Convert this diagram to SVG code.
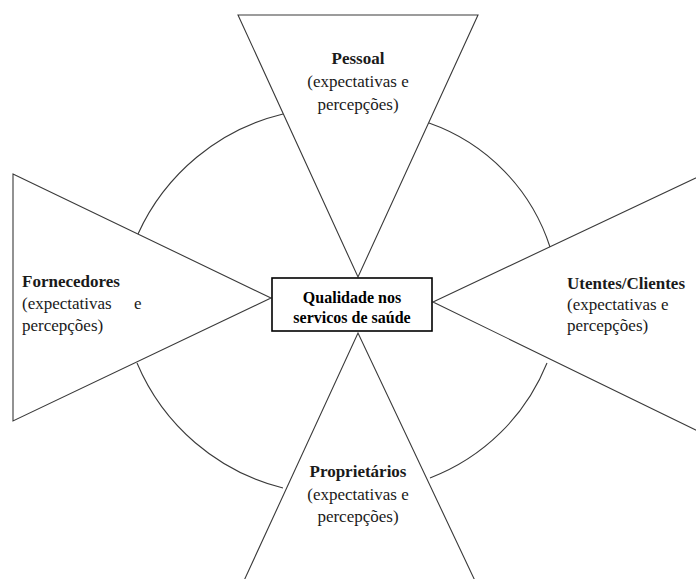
<svg xmlns="http://www.w3.org/2000/svg" width="696" height="579" viewBox="0 0 696 579">
  <style>
    .edge { fill: none; stroke: #3a3a3a; stroke-width: 1.1; stroke-linejoin: miter; }
    .arc { fill: none; stroke: #3a3a3a; stroke-width: 1.1; }
    .box { fill: #ffffff; stroke: #000000; stroke-width: 1.6; }
    .t { font-family: "Liberation Serif", "Times New Roman", serif; font-size: 17px; fill: #1a1a1a; }
    .b { font-weight: bold; }
    .c { text-anchor: middle; }
    .q { font-family: "Liberation Serif", "Times New Roman", serif; font-size: 16px; font-weight: bold; fill: #000; text-anchor: middle; }
  </style>
  <rect width="696" height="579" fill="#ffffff"/>

  <g id="connectors">
    <path class="arc" d="M138,234 A215,215 0 0 1 283,114"/>
    <path class="arc" d="M429,123 A195,195 0 0 1 550,247"/>
    <path class="arc" d="M547,363 A205,205 0 0 1 430,478"/>
    <path class="arc" d="M283,488 A215,215 0 0 1 137,363"/>
  </g>

  <g id="node-pessoal">
    <polygon class="edge" points="238,15 478,15 358,277"/>
    <text class="t b c" x="358" y="64">Pessoal</text>
    <text class="t c" x="358" y="87">(expectativas e</text>
    <text class="t c" x="358" y="110">percepções)</text>
  </g>

  <g id="node-fornecedores">
    <polygon class="edge" points="13,174 271,298 13,421"/>
    <text class="t b" x="22" y="287">Fornecedores</text>
    <text class="t" x="22" y="309">(expectativas<tspan x="134">e</tspan></text>
    <text class="t" x="22" y="331">percepções)</text>
  </g>

  <g id="node-utentes">
    <polyline class="edge" points="700,176 433,302 700,432"/>
    <text class="t b" x="567" y="289">Utentes/Clientes</text>
    <text class="t" x="567" y="310">(expectativas e</text>
    <text class="t" x="567" y="331">percepções)</text>
  </g>

  <g id="node-proprietarios">
    <polyline class="edge" points="242,585 358,333 477,585"/>
    <text class="t b c" x="358" y="477">Proprietários</text>
    <text class="t c" x="358" y="500">(expectativas e</text>
    <text class="t c" x="358" y="522">percepções)</text>
  </g>

  <g id="node-qualidade">
    <rect class="box" x="272" y="278" width="160" height="53"/>
    <text class="q" x="352" y="303">Qualidade nos</text>
    <text class="q" x="352" y="323">servicos de saúde</text>
  </g>
</svg>
